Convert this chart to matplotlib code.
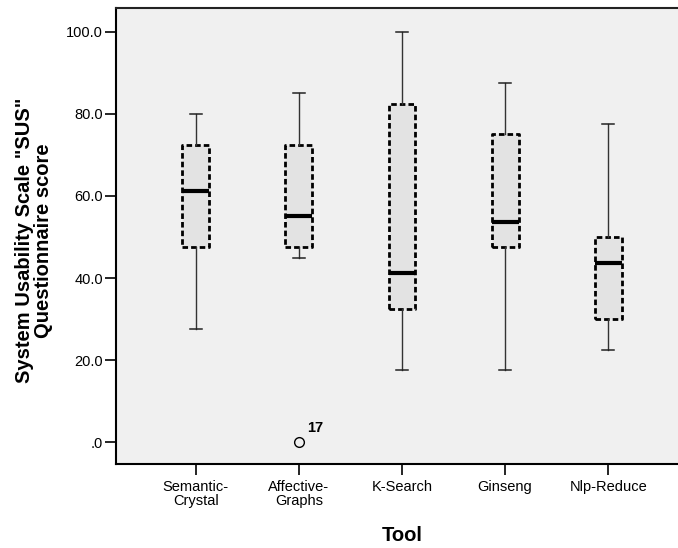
import matplotlib
matplotlib.use("Agg")
import matplotlib.pyplot as plt

# Summary statistics of the SUS questionnaire score per tool
tools = ["Semantic-\nCrystal", "Affective-\nGraphs", "K-Search", "Ginseng", "Nlp-Reduce"]
whisker_low = [27.5, 45.0, 17.5, 17.5, 22.5]
quartile_1 = [47.5, 47.5, 32.5, 47.5, 30.0]
medians = [61.25, 55.0, 41.25, 53.75, 43.75]
quartile_3 = [72.5, 72.5, 82.5, 75.0, 50.0]
whisker_high = [80.0, 85.0, 100.0, 87.5, 77.5]
outliers = [[], [0.0], [], [], []]
outlier_ids = [[], ["17"], [], [], []]

y_ticks = [0, 20, 40, 60, 80, 100]
y_tick_labels = [".0", "20.0", "40.0", "60.0", "80.0", "100.0"]

plt.rcParams["font.family"] = ["Liberation Sans", "DejaVu Sans"]

fig = plt.figure(figsize=(6.78, 5.48), dpi=100)
fig.patch.set_facecolor("white")
ax = fig.add_axes([0.1707, 0.1527, 0.844, 0.8327])
ax.set_facecolor("#f0f0f0")

positions = list(range(1, len(tools) + 1))
stats = []
for i in range(len(tools)):
    stats.append(dict(med=medians[i], q1=quartile_1[i], q3=quartile_3[i],
                      whislo=whisker_low[i], whishi=whisker_high[i],
                      fliers=outliers[i]))

ax.bxp(stats, positions=positions, widths=0.26, capwidths=0.12,
       patch_artist=True, showfliers=True,
       boxprops=dict(facecolor="#e3e3e3", edgecolor="black", linewidth=2.0,
                     linestyle=(0, (2.0, 1.1)), joinstyle="round"),
       medianprops=dict(color="black", linewidth=3.0, solid_capstyle="butt"),
       whiskerprops=dict(color="#333333", linewidth=1.0),
       capprops=dict(color="#222222", linewidth=1.1),
       flierprops=dict(marker="o", markersize=7, markerfacecolor="none",
                       markeredgecolor="black", markeredgewidth=1.0))

# Case labels next to outliers
for pos, vals, ids in zip(positions, outliers, outlier_ids):
    for v, lab in zip(vals, ids):
        ax.annotate(lab, (pos, v), xytext=(6, 5), textcoords="offset points",
                    fontsize=10.5, fontweight="bold", ha="left", va="bottom")

ax.set_xlim(0.2244, 5.773)
ax.set_ylim(-5.44, 105.85)
ax.set_xticks(positions)
ax.set_xticklabels(tools, fontsize=10.5, linespacing=1.05)
ax.set_yticks(y_ticks)
ax.set_yticklabels(y_tick_labels, fontsize=10.5)
ax.tick_params(axis="both", direction="out", length=8, width=1.2, color="black")
ax.tick_params(axis="y", pad=1)
ax.tick_params(axis="x", pad=3)

for side in ["left", "bottom"]:
    ax.spines[side].set_linewidth(1.5)
ax.spines["top"].set_linewidth(1.5)
ax.spines["top"].set_color("#222222")
ax.spines["right"].set_visible(False)

ax.set_ylabel('System Usability Scale "SUS"\nQuestionnaire score', fontsize=14.5,
              fontweight="bold", linespacing=0.95, va="center", ha="center")
ax.yaxis.set_label_coords(-0.143, 0.49)
ax.set_xlabel("Tool", fontsize=14.5, fontweight="bold", va="center")
ax.xaxis.set_label_coords(0.5, -0.155)

fig.savefig("out.png", dpi=100)
